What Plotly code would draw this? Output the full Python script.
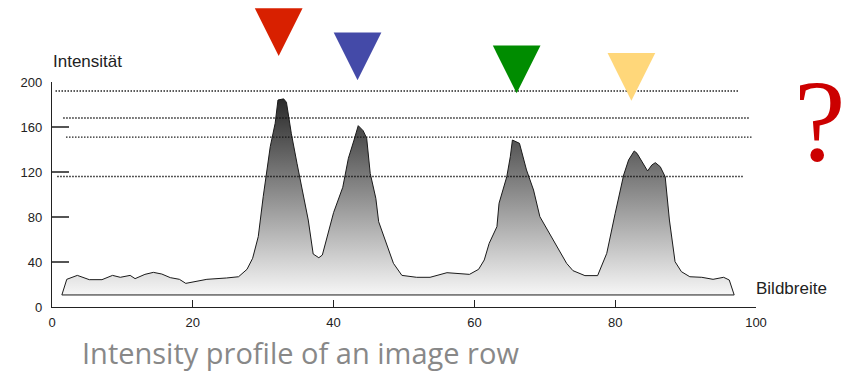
import plotly.graph_objects as go

# Intensity profile along one image row (position in % of image width, grey value)
profile_x = [1.4, 2.1, 3.6, 5.3, 7.1, 8.6, 9.7, 11.1, 11.8, 13.2, 14.4, 15.6, 16.8, 18.1,
             19.0, 22.0, 24.8, 26.5, 27.7, 28.5, 29.3, 30.0, 31.0, 31.7, 32.1, 32.9, 33.3,
             34.0, 34.8, 35.7, 36.4, 37.1, 37.9, 38.4, 40.0, 41.3, 42.1, 42.9, 43.5, 44.2,
             44.7, 45.2, 46.0, 46.4, 47.3, 48.5, 49.7, 51.8, 53.7, 56.1, 59.3, 60.6, 61.4,
             62.1, 63.2, 63.5, 64.6, 65.1, 65.4, 66.4, 67.4, 68.4, 69.3, 71.2, 73.1, 74.0,
             75.7, 77.5, 78.8, 80.0, 81.2, 81.9, 82.7, 83.1, 83.8, 84.6, 85.2, 85.7, 86.4,
             87.1, 87.7, 88.5, 89.4, 90.6, 92.3, 93.9, 95.4, 96.2, 96.9]
profile_y = [10.7, 24.6, 28.1, 24.3, 24.3, 28.1, 26.4, 28.1, 25.2, 29.0, 30.8, 29.3, 26.1, 24.6,
             21.0, 24.6, 25.8, 26.9, 33.5, 43.3, 62.6, 98.0, 142.5, 163.3, 184.0, 185.0, 182.0,
             154.0, 127.7, 98.0, 77.3, 47.1, 43.8, 46.2, 84.0, 106.4, 132.2, 148.4, 161.2, 156.7,
             150.0, 118.8, 96.6, 75.8, 59.6, 38.8, 28.1, 26.4, 26.4, 30.5, 29.0, 33.5, 41.8,
             56.6, 71.4, 92.2, 115.8, 133.6, 148.4, 145.5, 121.8, 104.0, 80.3, 59.6, 38.8, 32.3,
             27.9, 27.9, 47.7, 83.3, 117.3, 130.7, 138.7, 136.6, 129.2, 120.9, 126.2, 128.3, 124.7,
             115.8, 77.3, 40.3, 31.4, 26.9, 26.4, 24.6, 26.4, 24.0, 10.7]

# Threshold levels (dotted lines) and their horizontal extent
threshold_levels = [192, 168, 151, 116]
threshold_start = [0.5, 1.6, 2.0, 0.75]
threshold_end = [97.5, 99.1, 99.5, 98.3]

# Peak markers: tip position (x, intensity) and colour
marker_x = [32.2, 43.4, 66.0, 82.3]
marker_y = [223.1, 201.5, 190.0, 183.4]
marker_colors = ["#d82000", "#444aa8", "#008c00", "#ffd77a"]

x_ticks = [0, 20, 40, 60, 80, 100]
y_ticks = [0, 40, 80, 120, 160, 200]

W, H = 848, 372
# pixel geometry of the axis box
X0_PX, X100_PX = 52, 756
Y0_PX, Y200_PX = 307, 82
KX = (X100_PX - X0_PX) / 100.0
KY = (Y0_PX - Y200_PX) / 200.0
TRI_W_PX, TRI_H_PX = 47.7, 47.7

fig = go.Figure()

# closed profile polygon with a vertical grey gradient
fig.add_trace(go.Scatter(
    x=profile_x + [profile_x[0]], y=profile_y + [profile_y[0]],
    mode="lines", fill="toself",
    fillgradient=dict(type="vertical",
                      colorscale=[[0, "#f7f7f7"], [1, "#282828"]],
                      start=10, stop=186),
    line=dict(color="#1a1a1a", width=1),
    hoverinfo="skip", showlegend=False,
))

# dotted threshold lines
for lvl, xs, xe in zip(threshold_levels, threshold_start, threshold_end):
    fig.add_trace(go.Scatter(
        x=[xs, xe], y=[lvl, lvl], mode="lines",
        line=dict(color="#111", width=1.4, dash="1.4px,1.6px"),
        hoverinfo="skip", showlegend=False,
    ))

# peak markers: downward triangles on a full-canvas overlay axis pair
half_w = TRI_W_PX / 2 / KX
tri_h = TRI_H_PX / KY
for mx, my, col in zip(marker_x, marker_y, marker_colors):
    fig.add_trace(go.Scatter(
        x=[mx - half_w, mx + half_w, mx, mx - half_w],
        y=[my + tri_h, my + tri_h, my, my + tri_h],
        xaxis="x2", yaxis="y2", mode="lines", fill="toself",
        fillcolor=col, line=dict(color=col, width=0),
        hoverinfo="skip", showlegend=False,
    ))

tick_font = dict(family="Liberation Sans, Arial, sans-serif", size=13, color="#222")
label_font = dict(family="Liberation Sans, Arial, sans-serif", size=17, color="#222")

fig.update_layout(
    width=W, height=H,
    # annotations near the edges must not shrink the drawing area
    margin=dict(l=0, r=0, t=0, b=0, autoexpand=False),
    paper_bgcolor="white", plot_bgcolor="rgba(0,0,0,0)",
    xaxis=dict(
        domain=[X0_PX / W, X100_PX / W], range=[0, 100],
        tickvals=x_ticks, ticktext=[str(v) for v in x_ticks],
        ticks="inside", ticklen=7, tickwidth=1.3, tickcolor="#222",
        showline=True, linecolor="#222", linewidth=1.3,
        showgrid=False, zeroline=False, tickfont=tick_font,
        ticklabelstandoff=3,
        anchor="y", fixedrange=True,
    ),
    yaxis=dict(
        domain=[(H - Y0_PX) / H, (H - Y200_PX) / H], range=[0, 200],
        tickvals=y_ticks, ticktext=[str(v) for v in y_ticks],
        ticks="inside", ticklen=17, tickwidth=1.7, tickcolor="#555",
        showline=True, linecolor="#222", linewidth=1.3,
        showgrid=False, zeroline=False, tickfont=tick_font,
        ticklabelstandoff=6,
        anchor="x", fixedrange=True,
    ),
    xaxis2=dict(
        domain=[0, 1], range=[-X0_PX / KX, (W - X0_PX) / KX],
        visible=False, anchor="y2", fixedrange=True,
    ),
    yaxis2=dict(
        domain=[0, 1], range=[-(H - Y0_PX) / KY, Y0_PX / KY],
        visible=False, anchor="x2", fixedrange=True,
    ),
    annotations=[
        dict(text="Intensität", xref="paper", yref="paper",
             x=51 / W, y=(H - 62) / H, xanchor="left", yanchor="middle",
             showarrow=False, font=label_font),
        dict(text="Bildbreite", xref="paper", yref="paper",
             x=754 / W, y=(H - 288) / H, xanchor="left", yanchor="middle",
             showarrow=False, font=label_font),
        dict(text="?", xref="paper", yref="paper",
             x=1, y=(H - 121) / H, xanchor="right", yanchor="middle",
             showarrow=False,
             font=dict(family="Liberation Serif, Times New Roman, serif", size=116, color="#cc0000")),
        dict(text="Intensity profile of an image row", xref="paper", yref="paper",
             x=80 / W, y=(H - 352) / H, xanchor="left", yanchor="middle",
             showarrow=False,
             font=dict(family="Open Sans, Noto Sans, sans-serif", size=29, color="#888")),
    ],
)

fig.write_html("out.html", config=dict(displayModeBar=False))
